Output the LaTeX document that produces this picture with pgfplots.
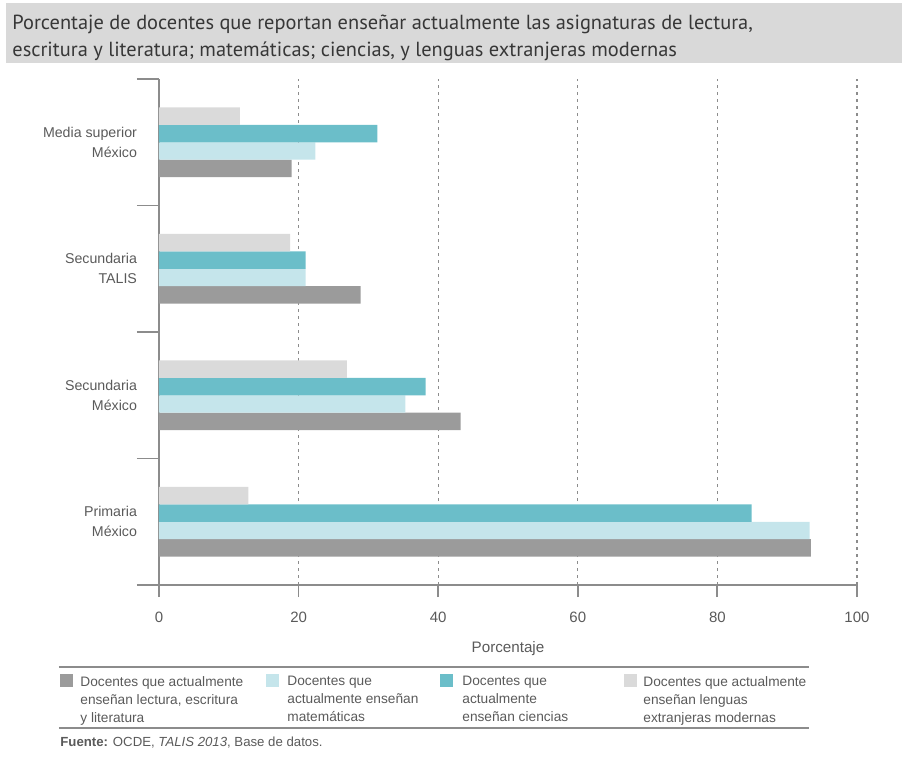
\documentclass[border=0pt]{standalone}
\usepackage{pgfplots}
\pgfplotsset{compat=1.18}
\usepackage{fontspec}
\setmainfont{Liberation Sans}
\newfontfamily\titlefont{PT Sans}

\definecolor{lectura}{RGB}{155,155,155}
\definecolor{matem}{RGB}{197,229,235}
\definecolor{ciencias}{RGB}{107,190,201}
\definecolor{lenguas}{RGB}{218,218,218}
\definecolor{titlebg}{RGB}{217,217,217}
\definecolor{titletext}{RGB}{55,55,55}
\definecolor{labelgray}{RGB}{90,90,90}
\definecolor{axisgray}{RGB}{140,140,140}

\begin{document}
\begin{tikzpicture}
% marco de la figura
\path (-79.5pt,-86pt) rectangle (371.5pt,292.5pt);

% titulo
\fill[titlebg] (-76.5pt,261pt) rectangle (371.5pt,291pt);
\node[anchor=north west, align=left, inner sep=0pt, text=titletext,
      font=\titlefont\fontsize{10.2}{13.5}\selectfont] at (-73.5pt,285pt)
  {Porcentaje de docentes que reportan enseñar actualmente las asignaturas de lectura,\\
   escritura y literatura; matemáticas; ciencias, y lenguas extranjeras modernas};

\begin{axis}[
    at={(0pt,0pt)}, anchor=south west,
    scale only axis,
    width=349pt, height=253pt,
    xmin=0, xmax=100,
    ymin=-0.5, ymax=3.5,
    axis x line*=bottom,
    axis y line*=left,
    axis line style={draw=axisgray, line width=0.9pt},
    xbar, bar width=0.138,
    tick align=outside,
    major tick length=6pt,
    xtick={0,20,40,60,80,100},
    xtick style={draw=axisgray, line width=0.9pt},
    ytick={0,1,2,3},
    ytick style={draw=none},
    minor ytick={-0.5,0.5,1.5,2.5,3.5},
    minor tick length=11pt,
    minor y tick style={draw=axisgray, line width=0.9pt},
    yticklabels={{Primaria\\México},{Secundaria\\México},{Secundaria\\TALIS},{Media superior\\México}},
    yticklabel style={align=right, text=labelgray, font=\fontsize{7.1}{10}\selectfont, xshift=-1.5pt},
    /pgf/number format/assume math mode=true,
    xticklabel style={text=labelgray, font=\fontsize{7.5}{9}\selectfont, yshift=-4pt},
    xmajorgrids,
    major grid style={draw=axisgray, line width=0.6pt, dash pattern=on 1.5pt off 2pt},
    xlabel={Porcentaje},
    xlabel style={at={(axis description cs:0.5,0)}, anchor=center, yshift=-32pt,
                  text=labelgray, font=\fontsize{7.6}{9}\selectfont},
]
% lectura, escritura y literatura
\addplot[fill=lectura, draw=none, bar shift=-0.207] coordinates {
    (93.4,0) (43.2,1) (28.9,2) (19.0,3)};
% matematicas
\addplot[fill=matem, draw=none, bar shift=-0.069] coordinates {
    (93.2,0) (35.3,1) (21.0,2) (22.4,3)};
% ciencias
\addplot[fill=ciencias, draw=none, bar shift=0.069] coordinates {
    (84.9,0) (38.2,1) (21.0,2) (31.3,3)};
% lenguas extranjeras modernas
\addplot[fill=lenguas, draw=none, bar shift=0.207] coordinates {
    (12.8,0) (26.9,1) (18.8,2) (11.6,3)};
\end{axis}

% leyenda
\draw[axisgray, line width=1pt] (-50pt,-41pt) -- (325pt,-41pt);
\draw[axisgray, line width=1pt] (-50pt,-71.5pt) -- (325pt,-71.5pt);
\fill[lectura]  (-49.5pt,-44.5pt) rectangle (-43pt,-51pt);
\fill[matem]    (53.5pt,-44.5pt) rectangle (60pt,-51pt);
\fill[ciencias] (140.5pt,-44.5pt) rectangle (147pt,-51pt);
\fill[lenguas]  (232.5pt,-44.5pt) rectangle (239pt,-51pt);
\begin{scope}[every node/.style={anchor=north west, align=left, inner sep=0pt,
      text=labelgray, font=\fontsize{6.85}{9}\selectfont}]
\node at (-39.5pt,-45.4pt) {Docentes que actualmente\\enseñan lectura, escritura\\y literatura};
\node at (64pt,-45.4pt) {Docentes que\\actualmente enseñan\\matemáticas};
\node at (151.5pt,-45.4pt) {Docentes que\\actualmente\\enseñan ciencias};
\node at (242pt,-45.4pt) {Docentes que actualmente\\enseñan lenguas\\extranjeras modernas};
\end{scope}

% fuente
\node[anchor=west, inner sep=0pt, text=labelgray, font=\fontsize{6.6}{8}\selectfont]
  at (-49.5pt,-79pt) {\textbf{Fuente:} OCDE, \textit{TALIS 2013}, Base de datos.};
\end{tikzpicture}
\end{document}
